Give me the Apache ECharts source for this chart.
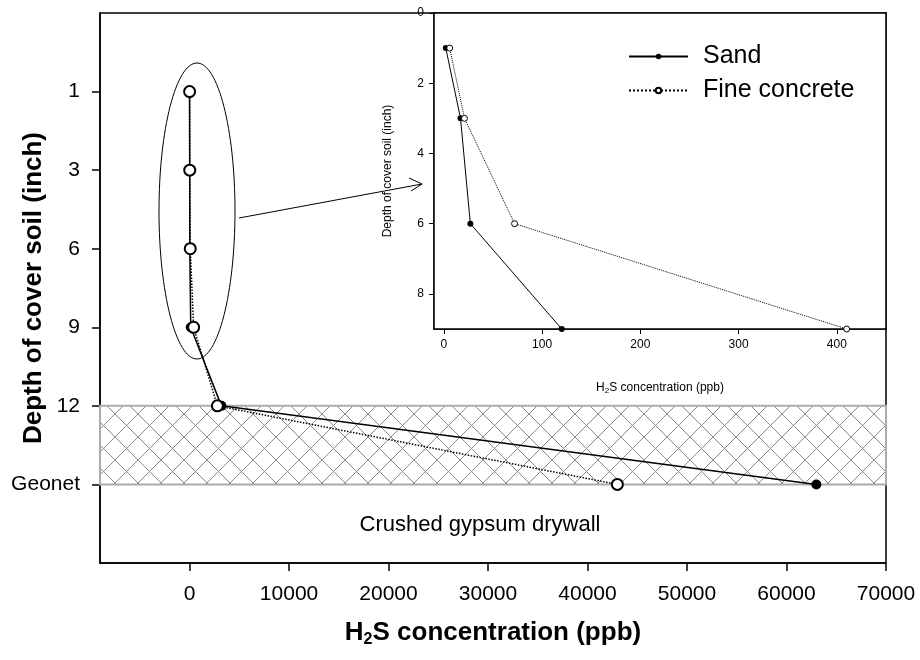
<!DOCTYPE html>
<html>
<head>
<meta charset="utf-8">
<script src="https://cdn.jsdelivr.net/npm/echarts@6/dist/echarts.min.js"></script>
<style>
  html, body { margin: 0; padding: 0; background: #fff; }
  #chart { width: 920px; height: 660px; }
</style>
</head>
<body>
<div id="chart"></div>
<script>
// depth levels on the main chart (positions 1..6)
const depthLabels = ['1', '3', '6', '9', '12', 'Geonet'];
// depths used in the inset (inch)
const insetDepths = [1, 3, 6, 9];
// H2S concentration (ppb) per level
const sandPpb = [2, 17, 27, 120, 3200, 63000];
const finePpb = [6, 21, 72, 410, 2800, 43000];
// tick values
const mainXTicks = [0, 10000, 20000, 30000, 40000, 50000, 60000, 70000];
const mainYTicks = [1, 2, 3, 4, 5, 6];
const insetXTicks = [0, 100, 200, 300, 400];
const insetYTicks = [0, 2, 4, 6, 8];

const FONT = "'Liberation Sans', Arial, sans-serif";

// diagonal cross hatch for the geonet layer
function hatchPattern() {
    const s = 23;
    const c = document.createElement('canvas');
    c.width = s; c.height = s;
    const g = c.getContext('2d');
    g.strokeStyle = '#8a8a8a';
    g.lineWidth = 1;
    g.beginPath();
    g.moveTo(0, 0); g.lineTo(s, s);
    g.moveTo(s, 0); g.lineTo(0, s);
    g.stroke();
    return c;
}

const chart = echarts.init(document.getElementById('chart'));

const mainSand = sandPpb.map((v, i) => [v, i + 1]);
const mainFine = finePpb.map((v, i) => [v, i + 1]);
const insetSand = insetDepths.map((d, i) => [sandPpb[i], d]);
const insetFine = insetDepths.map((d, i) => [finePpb[i], d]);

const axisLineStyle = { onZero: false, lineStyle: { color: '#000', width: 1.5 } };

const option = {
    backgroundColor: '#fff',
    animation: false,
    textStyle: { fontFamily: FONT },
    grid: [
        { left: 100, right: 34, top: 13, bottom: 97, outerBoundsMode: 'none', containLabel: false,
          show: true, borderColor: '#000', borderWidth: 1.5 },
        { left: 434, right: 34, top: 13, bottom: 331, outerBoundsMode: 'none', containLabel: false,
          show: true, borderColor: '#000', borderWidth: 1.5, backgroundColor: '#fff', z: 5 }
    ],
    legend: {
        orient: 'vertical',
        left: 628, top: 44, padding: 0,
        itemWidth: 59, itemHeight: 7, itemGap: 9,
        data: ['Sand', 'Fine concrete'],
        textStyle: { fontSize: 25, fontFamily: FONT, color: '#000', padding: [0, 0, 0, 10] },
        z: 10
    },
    xAxis: [
        {
            type: 'value', gridIndex: 0, min: -9000, max: 70000,
            axisLine: axisLineStyle,
            axisTick: { customValues: mainXTicks, length: 8, lineStyle: { color: '#000', width: 1.5 } },
            axisLabel: { customValues: mainXTicks, color: '#000', fontSize: 21, fontFamily: FONT, margin: 21,
                         formatter: v => String(v) },
            splitLine: { show: false },
            name: '{b|H}{s|2}{b|S concentration (ppb)}',
            nameLocation: 'middle', nameGap: 55, nameMoveOverlap: false,
            nameTextStyle: {
                rich: {
                    b: { fontSize: 26, fontWeight: 'bold', fontFamily: FONT, color: '#000' },
                    s: { fontSize: 16, fontWeight: 'bold', fontFamily: FONT, color: '#000', verticalAlign: 'bottom', padding: [14, 0, 0, 0] }
                }
            }
        },
        {
            type: 'value', gridIndex: 1, min: -10, max: 450,
            axisLine: axisLineStyle,
            axisTick: { customValues: insetXTicks, length: 5, lineStyle: { color: '#000' } },
            axisLabel: { customValues: insetXTicks, color: '#000', fontSize: 12, fontFamily: FONT, margin: 10,
                         formatter: v => String(v) },
            splitLine: { show: false },
            name: '{b|H}{s|2}{b|S concentration (ppb)}',
            nameLocation: 'middle', nameGap: 51, nameMoveOverlap: false,
            nameTextStyle: {
                rich: {
                    b: { fontSize: 12, fontFamily: FONT, color: '#000' },
                    s: { fontSize: 8, fontFamily: FONT, color: '#000', verticalAlign: 'bottom', padding: [7, 0, 0, 0] }
                }
            }
        }
    ],
    yAxis: [
        {
            type: 'value', gridIndex: 0, min: 0, max: 7, inverse: true,
            axisLine: axisLineStyle,
            axisTick: { customValues: mainYTicks, length: 8, lineStyle: { color: '#000', width: 1.5 } },
            axisLabel: {
                customValues: mainYTicks, color: '#000', fontSize: 21, fontFamily: FONT, margin: 20,
                formatter: v => depthLabels[v - 1]
            },
            splitLine: { show: false },
            name: 'Depth of cover soil (inch)',
            nameLocation: 'middle', nameGap: 53, nameRotate: 90, nameMoveOverlap: false,
            nameTextStyle: { fontSize: 26, fontWeight: 'bold', fontFamily: FONT, color: '#000' }
        },
        {
            type: 'value', gridIndex: 1, min: 0, max: 9, inverse: true,
            axisLine: axisLineStyle,
            axisTick: { customValues: insetYTicks, length: 5, lineStyle: { color: '#000' } },
            axisLabel: { customValues: insetYTicks, color: '#000', fontSize: 12, fontFamily: FONT, margin: 10 },
            splitLine: { show: false },
            name: 'Depth of cover soil (inch)',
            nameLocation: 'middle', nameGap: 40, nameRotate: 90, nameMoveOverlap: false,
            nameTextStyle: { fontSize: 12, fontFamily: FONT, color: '#000' }
        }
    ],
    series: [
        {
            name: 'Sand', type: 'line', xAxisIndex: 0, yAxisIndex: 0,
            data: mainSand,
            symbol: 'circle', symbolSize: 10,
            itemStyle: { color: '#000' },
            lineStyle: { color: '#000', width: 1.5 },
            z: 3,
            markArea: {
                silent: true,
                itemStyle: {
                    color: { image: hatchPattern(), repeat: 'repeat' },
                    borderColor: '#ababab', borderWidth: 2
                },
                data: [[{ yAxis: 5 }, { yAxis: 6 }]]
            }
        },
        {
            name: 'Fine concrete', type: 'line', xAxisIndex: 0, yAxisIndex: 0,
            data: mainFine,
            symbol: 'circle', symbolSize: 11,
            itemStyle: { color: '#fff', borderColor: '#000', borderWidth: 2 },
            lineStyle: { color: '#000', width: 1.5, type: 'dotted' },
            z: 4
        },
        {
            name: 'Sand', type: 'line', xAxisIndex: 1, yAxisIndex: 1,
            data: insetSand,
            symbol: 'circle', symbolSize: 6,
            itemStyle: { color: '#000' },
            lineStyle: { color: '#000', width: 1 },
            z: 6
        },
        {
            name: 'Fine concrete', type: 'line', xAxisIndex: 1, yAxisIndex: 1,
            data: insetFine,
            symbol: 'circle', symbolSize: 6,
            itemStyle: { color: '#fff', borderColor: '#000', borderWidth: 1 },
            lineStyle: { color: '#000', width: 1, type: 'dotted' },
            z: 6
        }
    ],
    graphic: [
        { type: 'ellipse', shape: { cx: 197, cy: 211, rx: 38, ry: 148 }, style: { fill: 'none', stroke: '#000', lineWidth: 1 }, z: 10 },
        { type: 'line', shape: { x1: 239, y1: 218, x2: 422, y2: 184 }, style: { stroke: '#000', lineWidth: 1 }, z: 10 },
        { type: 'polyline', shape: { points: [[409, 178], [422, 184], [411, 191]] }, style: { fill: 'none', stroke: '#000', lineWidth: 1 }, z: 10 },
        { type: 'text', x: 480, y: 525, style: { text: 'Crushed gypsum drywall', fontSize: 22, fontFamily: FONT, fill: '#000', align: 'center', verticalAlign: 'middle' }, z: 10 }
    ]
};

chart.setOption(option);
</script>
</body>
</html>
